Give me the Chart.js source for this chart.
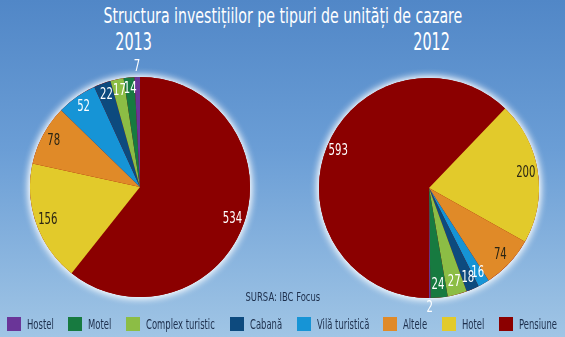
<!DOCTYPE html>
<html>
<head>
<meta charset="utf-8">
<script src="https://cdn.jsdelivr.net/npm/chart.js@4"></script>
<style>
  html, body { margin: 0; padding: 0; }
  body {
    width: 565px; height: 337px; position: relative; overflow: hidden;
    background: linear-gradient(180deg, #5187c7 0%, #6b9ed6 45%, #a0c5e5 100%);
    font-family: "DejaVu Sans Condensed", "Liberation Sans Narrow", sans-serif;
  }
  .narrow { display: inline-block; white-space: nowrap; }
  #title { position: absolute; left: 0; right: 0; top: 3px; text-align: center; color: #fff; font-size: 22px; }
  #title .narrow { transform: scaleX(0.715); }
  .year { position: absolute; top: 27px; width: 80px; margin-left: -40px; text-align: center; color: #fff; font-size: 25px; }
  .year .narrow { transform: scaleX(0.64); }
  .pie { position: absolute; width: 260px; height: 260px; }
  #src { position: absolute; left: 0; right: 0; top: 289px; text-align: center; color: #1d2f4c; font-size: 12.5px; }
  #src .narrow { transform: scaleX(0.75); }
  #legend { position: absolute; left: 7px; width: 550px; top: 316px; display: flex; align-items: center; justify-content: space-between; }
  .item { display: flex; align-items: center; }
  .box { width: 14px; height: 14px; margin-right: 6px; }
  .lbl { color: #1d2f4c; font-size: 14px; }
  .lbl span { display: inline-block; white-space: nowrap; transform: scaleX(0.67); transform-origin: 0 50%; }
</style>
</head>
<body>
<div id="title"><span class="narrow">Structura investițiilor pe tipuri de unități de cazare</span></div>
<div class="year" style="left:134px"><span class="narrow">2013</span></div>
<div class="year" style="left:432px"><span class="narrow">2012</span></div>
<canvas id="pie2013" class="pie" width="260" height="260" style="left:10px;top:57px"></canvas>
<canvas id="pie2012" class="pie" width="260" height="260" style="left:299px;top:58px"></canvas>
<div id="src"><span class="narrow">SURSA: IBC Focus</span></div>
<div id="legend"></div>
<script>
const categories = ['Pensiune', 'Hotel', 'Altele', 'Vilă turistică', 'Cabană', 'Complex turistic', 'Motel', 'Hostel'];
const values2013 = [534, 156, 78, 52, 22, 17, 14, 7];
const values2012 = [593, 200, 74, 16, 18, 27, 24, 2];
const colors = ['#8b0000', '#e2ca2b', '#e08a28', '#1694d6', '#0d4a7e', '#8cbd45', '#177a40', '#6a3598'];
const labelColors = ['#fff', '#2a2514', '#2a2514', '#fff', '#fff', '#fff', '#fff', '#fff'];
const outsideLabels = ['Hostel'];

const labelFont = '15px "DejaVu Sans Condensed", "Liberation Sans Narrow", sans-serif';
const legendScale = 0.67;

// soft white halo behind the whole pie
const haloPlugin = {
    id: 'halo',
    beforeDatasetsDraw(chart) {
        const arc = chart.getDatasetMeta(0).data[0];
        if (!arc) return;
        const { x, y, outerRadius } = arc.getProps(['x', 'y', 'outerRadius'], true);
        const ctx = chart.ctx;
        ctx.save();
        ctx.fillStyle = colors[0];
        ctx.shadowColor = '#fff';
        ctx.shadowBlur = 9;
        for (let k = 0; k < 2; k++) {
            ctx.beginPath();
            ctx.arc(x, y, outerRadius, 0, Math.PI * 2);
            ctx.fill();
        }
        ctx.restore();
    },
};

// value labels near the rim of each slice
const valueLabels = {
    id: 'valueLabels',
    afterDatasetsDraw(chart) {
        const ctx = chart.ctx;
        const meta = chart.getDatasetMeta(0);
        const data = chart.data.datasets[0].data;
        meta.data.forEach((arc, i) => {
            const { x, y, startAngle, endAngle, outerRadius } =
                arc.getProps(['x', 'y', 'startAngle', 'endAngle', 'outerRadius'], true);
            const mid = (startAngle + endAngle) / 2;
            const outside = outsideLabels.includes(categories[i]);
            const dist = outside ? outerRadius + 10 : outerRadius * 0.89;
            ctx.save();
            ctx.translate(x + Math.cos(mid) * dist, y + Math.sin(mid) * dist);
            ctx.scale(0.75, 1);
            ctx.font = labelFont;
            ctx.fillStyle = outside ? '#fff' : labelColors[i];
            ctx.textAlign = 'center';
            ctx.textBaseline = 'middle';
            ctx.fillText(String(data[i]), 0, 0);
            ctx.restore();
        });
    },
};

function makePie(id, values, rotation) {
    new Chart(document.getElementById(id), {
        type: 'pie',
        data: {
            labels: categories,
            datasets: [{
                data: values,
                backgroundColor: colors,
                borderWidth: 0,
            }],
        },
        options: {
            responsive: false,
            animation: false,
            radius: 110,
            rotation: rotation,
            layout: { padding: 0 },
            plugins: {
                legend: { display: false },
                tooltip: { enabled: false },
            },
        },
        plugins: [haloPlugin, valueLabels],
    });
}

makePie('pie2013', values2013, 0);
makePie('pie2012', values2012, 180);

// legend, listed in reverse slice order
const legend = document.getElementById('legend');
categories.slice().reverse().forEach((name) => {
    const i = categories.indexOf(name);
    const item = document.createElement('div');
    item.className = 'item';
    const box = document.createElement('div');
    box.className = 'box';
    box.style.background = colors[i];
    const lbl = document.createElement('div');
    lbl.className = 'lbl';
    const txt = document.createElement('span');
    txt.textContent = name;
    lbl.appendChild(txt);
    item.appendChild(box);
    item.appendChild(lbl);
    legend.appendChild(item);
    lbl.style.width = (txt.offsetWidth * legendScale) + 'px';
});
</script>
</body>
</html>
